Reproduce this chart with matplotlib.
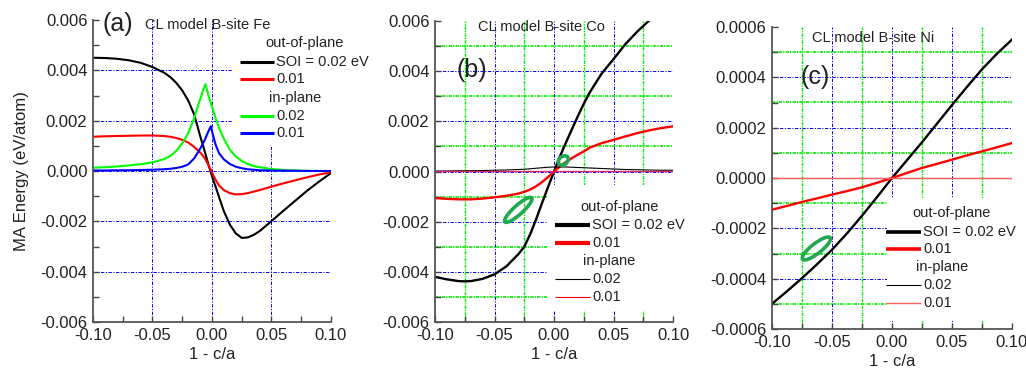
import matplotlib
matplotlib.use("Agg")
import matplotlib.pyplot as plt
from matplotlib.patches import Ellipse, Rectangle
from matplotlib.lines import Line2D
from matplotlib.transforms import ScaledTranslation
from matplotlib.ticker import MultipleLocator, FormatStrFormatter

plt.rcParams['font.family'] = ['Liberation Sans', 'DejaVu Sans']
plt.rcParams['lines.scale_dashes'] = False

# ---- panel (a): B-site Fe ----
x_a = [-0.1, -0.09, -0.08, -0.07, -0.06, -0.05, -0.04, -0.035, -0.03, -0.025, -0.02, -0.015,
       -0.01, -0.0075, -0.0055, -0.003, -0.001, 0.001, 0.003, 0.006, 0.01, 0.015, 0.02, 0.025,
       0.03, 0.035, 0.04, 0.05, 0.06, 0.07, 0.08, 0.09, 0.1]
fe_out_002 = [0.00450, 0.00449, 0.00446, 0.00440, 0.00430, 0.00413, 0.00390, 0.00373, 0.00350,
              0.00320, 0.00280, 0.00225, 0.00140, 0.00100, 0.00068, 0.00025, -0.00005, -0.00035,
              -0.00062, -0.00105, -0.00160, -0.00213, -0.00248, -0.00266, -0.00264, -0.00254,
              -0.00239, -0.00199, -0.00158, -0.00118, -0.00078, -0.00042, -0.00008]
fe_out_001 = [0.00136, 0.00138, 0.00139, 0.00140, 0.00141, 0.00141, 0.00139, 0.00136, 0.00131,
              0.00124, 0.00113, 0.00096, 0.00074, 0.00060, 0.00046, 0.00024, 0.00004, -0.00016,
              -0.00035, -0.00058, -0.00076, -0.00088, -0.00093, -0.00092, -0.00088, -0.00082,
              -0.00076, -0.00062, -0.00049, -0.00037, -0.00025, -0.00014, -0.00005]
fe_in_002 = [0.00013, 0.00015, 0.00018, 0.00022, 0.00027, 0.00034, 0.00048, 0.00060, 0.00080,
             0.00110, 0.00150, 0.00210, 0.00285, 0.00320, 0.00345, 0.00300, 0.00270, 0.00240,
             0.00210, 0.00170, 0.00128, 0.00085, 0.00058, 0.00040, 0.00028, 0.00020, 0.00015,
             0.00008, 0.00004, 0.00002, 0.00001, 0.0, 0.0]
fe_in_001 = [0.00002, 0.00002, 0.00003, 0.00003, 0.00004, 0.00005, 0.00007, 0.00009, 0.00012,
             0.00017, 0.00026, 0.00050, 0.00088, 0.00110, 0.00130, 0.00158, 0.00178, 0.00140,
             0.00105, 0.00070, 0.00046, 0.00028, 0.00017, 0.00011, 0.00007, 0.00005, 0.00003,
             0.00002, 0.00001, 0.00001, 0.0, 0.0, 0.0]

# ---- panel (b): B-site Co ----
x_b = [-0.1, -0.09, -0.08, -0.075, -0.07, -0.06, -0.05, -0.04, -0.03, -0.025, -0.02, -0.015,
       -0.01, -0.005, 0.0, 0.005, 0.01, 0.015, 0.02, 0.025, 0.03, 0.04, 0.05, 0.06, 0.07, 0.08,
       0.09, 0.1]
co_out_002 = [-0.00420, -0.00430, -0.00437, -0.00438, -0.00437, -0.00428, -0.00410, -0.00378,
              -0.00330, -0.00300, -0.00250, -0.00190, -0.00125, -0.00062, 0.0, 0.00060, 0.00115,
              0.00168, 0.00220, 0.00270, 0.00315, 0.00390, 0.00448, 0.00508, 0.00558, 0.00602,
              0.00638, 0.00668]
co_out_001 = [-0.00106, -0.00109, -0.00111, -0.00111, -0.00111, -0.00108, -0.00103, -0.00097,
              -0.00088, -0.00081, -0.00072, -0.00059, -0.00042, -0.00022, 0.0, 0.00020, 0.00038,
              0.00053, 0.00067, 0.00080, 0.00095, 0.00113, 0.00126, 0.00140, 0.00153, 0.00164,
              0.00173, 0.00180]
co_in_002 = [0.00002, 0.00002, 0.00003, 0.00003, 0.00003, 0.00004, 0.00005, 0.00006, 0.00008,
             0.00009, 0.00011, 0.00013, 0.00015, 0.00017, 0.00018, 0.00018, 0.00018, 0.00017,
             0.00016, 0.00015, 0.00014, 0.00012, 0.00010, 0.00008, 0.00007, 0.00006, 0.00005,
             0.00005]
co_in_001 = [0.00001] * len(x_b)

# ---- panel (c): B-site Ni ----
x_c = [-0.1, -0.0875, -0.075, -0.0625, -0.05, -0.0375, -0.025, -0.0125, 0.0, 0.0125, 0.025,
       0.0375, 0.05, 0.0625, 0.075, 0.0875, 0.1]
ni_out_002 = [-0.000500, -0.000450, -0.000398, -0.000343, -0.000285, -0.000220, -0.000150,
              -0.000076, 0.0, 0.000071, 0.000142, 0.000216, 0.000290, 0.000362, 0.000432,
              0.000494, 0.000550]
ni_out_001 = [-0.000126, -0.000111, -0.000095, -0.000081, -0.000066, -0.000052, -0.000037,
              -0.000019, 0.0, 0.000020, 0.000040, 0.000056, 0.000073, 0.000090, 0.000106,
              0.000122, 0.000139]
ni_in_002 = [0.0] * len(x_c)
ni_in_001 = [0.0] * len(x_c)

BLUE = '#0000ff'
GREEN = '#00ee00'
RING = '#1fa84f'
TXT = '#222222'

fig = plt.figure(figsize=(10.26, 3.70), dpi=100)
ax_a = fig.add_axes([93 / 1026, 48 / 370, 238 / 1026, 302 / 370])
ax_b = fig.add_axes([435 / 1026, 48 / 370, 238 / 1026, 301 / 370])
ax_c = fig.add_axes([772 / 1026, 41 / 370, 240 / 1026, 302 / 370])


def style_axes(ax, ymax, ystep, yfmt):
    ax.set_xlim(-0.1, 0.1)
    ax.set_ylim(-ymax, ymax)
    ax.xaxis.set_major_locator(MultipleLocator(0.05))
    ax.xaxis.set_minor_locator(MultipleLocator(0.025))
    ax.yaxis.set_major_locator(MultipleLocator(ystep))
    ax.yaxis.set_minor_locator(MultipleLocator(ystep / 2))
    ax.xaxis.set_major_formatter(FormatStrFormatter('%.2f'))
    ax.yaxis.set_major_formatter(FormatStrFormatter(yfmt))
    for s in ['top', 'right']:
        ax.spines[s].set_visible(False)
    for s in ['left', 'bottom']:
        ax.spines[s].set_color('#555555')
        ax.spines[s].set_linewidth(1.3)
    ax.tick_params(which='both', direction='in', length=4.5, width=1.0, color='#444444',
                   labelsize=12, labelcolor=TXT)
    ax.tick_params(axis='x', pad=4)
    ax.tick_params(axis='y', pad=4)
    ax.set_xlabel('1 - c/a', fontsize=12, color=TXT, labelpad=3.5)


def grid_lines(ax, ymax, ystep, minor=True):
    blue_ls = (0, (2.4, 1.1, 0.8, 1.1))
    green_ls = (0, (2.4, 0.8, 0.9, 0.8))
    for xv in [-0.05, 0.0, 0.05]:
        ax.axvline(xv, color=BLUE, lw=0.7, ls=blue_ls, zorder=0.5)
    n = int(round(ymax / ystep))
    for k in range(-n + 1, n):
        ax.axhline(k * ystep, color=BLUE, lw=0.7, ls=blue_ls, zorder=0.5)
    if minor:
        for xv in [-0.075, -0.025, 0.025, 0.075]:
            ax.axvline(xv, color=GREEN, lw=1.0, ls=green_ls, zorder=0.5)
        for k in range(-n, n):
            ax.axhline((k + 0.5) * ystep, color=GREEN, lw=1.2, ls=green_ls, zorder=0.5)


def key(ax, box, head_x, line_x, text_x, rows, fs=10.5):
    ax.add_patch(Rectangle((box[0], box[1]), box[2], box[3], transform=ax.transAxes,
                           facecolor='white', edgecolor='none', zorder=1, clip_on=False))
    for label, y, color, lw in rows:
        if color is None:
            ax.text(head_x[label], y, label, transform=ax.transAxes, fontsize=fs,
                    color=TXT, va='center', ha='left', zorder=5, clip_on=False)
        else:
            ax.add_line(Line2D(line_x, [y, y], transform=ax.transAxes, color=color, lw=lw,
                               zorder=5, clip_on=False, solid_capstyle='butt'))
            ax.text(text_x, y, label, transform=ax.transAxes, fontsize=fs, color=TXT,
                    va='center', ha='left', zorder=5, clip_on=False)


def ring(ax, x, y, w, h, angle):
    tr = fig.dpi_scale_trans + ScaledTranslation(x, y, ax.transData)
    ax.add_patch(Ellipse((0, 0), w / 100, h / 100, angle=angle, transform=tr, fill=False,
                         edgecolor=RING, lw=2.6, zorder=6))


# (a)
style_axes(ax_a, 0.006, 0.002, '%.3f')
grid_lines(ax_a, 0.006, 0.002, minor=False)
ax_a.plot(x_a, fe_out_002, color='black', lw=1.5, zorder=2)
ax_a.plot(x_a, fe_out_001, color='#ff0000', lw=1.5, zorder=2)
ax_a.plot(x_a, fe_in_002, color='#00ff00', lw=1.5, zorder=2)
ax_a.plot(x_a, fe_in_001, color='#0000ff', lw=1.5, zorder=2)
ax_a.set_ylabel('MA Energy (eV/atom)', fontsize=12, color=TXT, labelpad=8)
key(ax_a, (0.588, 0.578, 0.52, 0.44),
    {'out-of-plane': 0.723, 'in-plane': 0.739}, [0.618, 0.761], 0.770,
    [('out-of-plane', 0.924, None, 0), ('SOI = 0.02 eV', 0.861, 'black', 2.2),
     ('0.01', 0.805, '#ff0000', 2.2), ('in-plane', 0.742, None, 0),
     ('0.02', 0.682, '#00ff00', 2.2), ('0.01', 0.626, '#0000ff', 2.2)])
ax_a.text(0.042, 0.987, '(a)', transform=ax_a.transAxes, fontsize=18, color=TXT,
          va='center', ha='left', zorder=5)
ax_a.text(0.218, 0.983, 'CL model B-site Fe', transform=ax_a.transAxes, fontsize=10.5,
          color=TXT, va='center', ha='left', zorder=5)

# (b)
style_axes(ax_b, 0.006, 0.002, '%.3f')
grid_lines(ax_b, 0.006, 0.002)
ax_b.plot(x_b, co_out_002, color='black', lw=1.7, zorder=2)
ax_b.plot(x_b, co_out_001, color='#ff0000', lw=1.7, zorder=2)
ax_b.plot(x_b, co_in_002, color='black', lw=0.8, zorder=2)
ax_b.plot(x_b, co_in_001, color='#e8206a', lw=0.9, zorder=2)
key(ax_b, (0.47, 0.037, 0.55, 0.418),
    {'out-of-plane': 0.609, 'in-plane': 0.622}, [0.504, 0.651], 0.660,
    [('out-of-plane', 0.382, None, 0), ('SOI = 0.02 eV', 0.322, 'black', 3.0),
     ('0.01', 0.262, '#ff0000', 3.0), ('in-plane', 0.203, None, 0),
     ('0.02', 0.143, 'black', 0.8), ('0.01', 0.083, '#ff0000', 0.8)])
ax_b.text(0.092, 0.837, '(b)', transform=ax_b.transAxes, fontsize=18, color=TXT,
          va='center', ha='left', zorder=5)
ax_b.text(0.18, 0.98, 'CL model B-site Co', transform=ax_b.transAxes, fontsize=10.5,
          color=TXT, va='center', ha='left', zorder=5)
ring(ax_b, 0.0078, 0.00044, 11, 8, 40)
ring(ax_b, -0.030, -0.00153, 36, 9, 42)

# (c)
style_axes(ax_c, 0.0006, 0.0002, '%.4f')
grid_lines(ax_c, 0.0006, 0.0002)
ax_c.plot(x_c, ni_out_002, color='black', lw=1.7, zorder=2)
ax_c.plot(x_c, ni_out_001, color='#ff0000', lw=1.7, zorder=2)
ax_c.plot(x_c, ni_in_002, color='black', lw=0.8, zorder=2)
ax_c.plot(x_c, ni_in_001, color='#ff6060', lw=1.0, zorder=2)
key(ax_c, (0.48, 0.025, 0.55, 0.41),
    {'out-of-plane': 0.583, 'in-plane': 0.600}, [0.475, 0.621], 0.629,
    [('out-of-plane', 0.384, None, 0), ('SOI = 0.02 eV', 0.321, 'black', 2.6),
     ('0.01', 0.265, '#ff0000', 2.6), ('in-plane', 0.205, None, 0),
     ('0.02', 0.146, 'black', 0.8), ('0.01', 0.086, '#ff6060', 1.0)])
ax_c.text(0.117, 0.834, '(c)', transform=ax_c.transAxes, fontsize=18, color=TXT,
          va='center', ha='left', zorder=5)
ax_c.text(0.167, 0.964, 'CL model B-site Ni', transform=ax_c.transAxes, fontsize=10.5,
          color=TXT, va='center', ha='left', zorder=5)
ring(ax_c, -0.063, -0.00028, 35, 10, 38)

for ax, ym in [(ax_a, 0.006), (ax_b, 0.006), (ax_c, 0.0006)]:
    ax.set_xlim(-0.1, 0.1)
    ax.set_ylim(-ym, ym)

fig.savefig('out.png', dpi=100)
